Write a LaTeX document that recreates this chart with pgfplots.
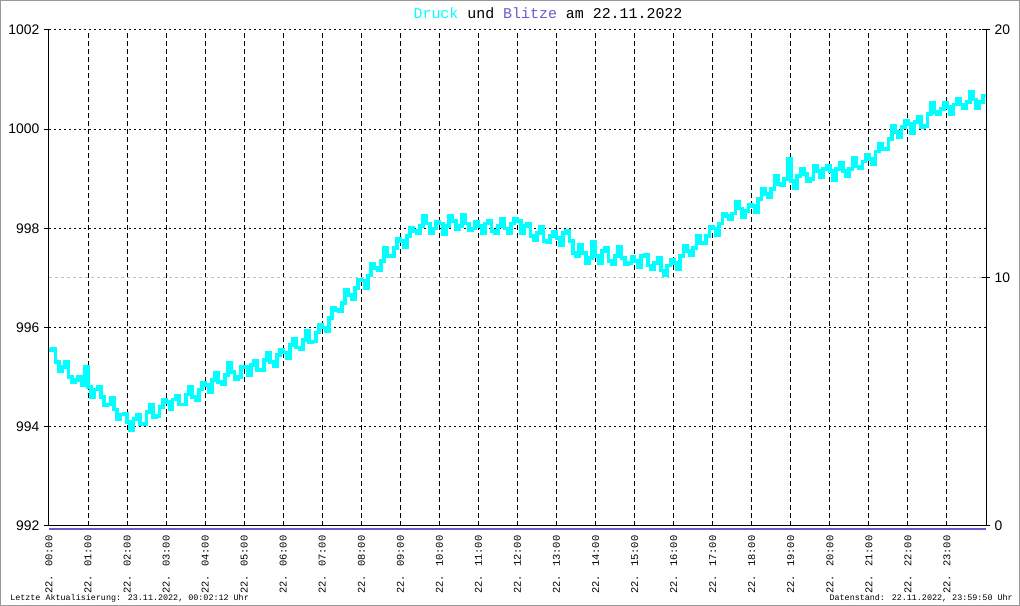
\documentclass[border=0pt]{standalone}
\usepackage{fontspec}
\setmainfont{Liberation Mono}
\newfontfamily\sansf{Liberation Sans}
\usepackage{pgfplots}
\usepackage{pgfplotstable}
\pgfplotsset{compat=1.18}
\definecolor{druck}{HTML}{00FFFF}
\definecolor{blitz}{HTML}{6A5ACD}

\pgfplotstableread{
t p
0 995.55
5 995.58
10 995.3
15 995.13
20 995.2
25 995.3
30 995.0
35 994.9
40 994.95
45 995.0
50 994.85
55 995.2
60 994.8
65 994.6
70 994.75
75 994.8
80 994.6
85 994.43
90 994.45
95 994.58
100 994.35
105 994.15
110 994.25
115 994.26
120 994.1
125 993.93
130 994.15
135 994.25
140 994.05
145 994.06
150 994.3
155 994.45
160 994.2
165 994.22
170 994.4
175 994.55
180 994.5
185 994.35
190 994.55
195 994.62
200 994.45
205 994.45
210 994.65
215 994.8
220 994.6
225 994.53
230 994.75
235 994.88
240 994.85
245 994.7
250 994.95
255 995.08
260 994.9
265 994.86
270 995.05
275 995.28
280 995.1
285 994.97
290 995.0
295 995.2
300 995.2
305 995.05
310 995.25
315 995.32
320 995.15
325 995.15
330 995.35
335 995.5
340 995.3
345 995.23
350 995.45
355 995.56
360 995.5
365 995.38
370 995.65
375 995.78
380 995.6
385 995.56
390 995.75
395 995.93
400 995.7
405 995.72
410 995.9
415 996.05
420 996.0
425 995.92
430 996.2
435 996.4
440 996.35
445 996.33
450 996.5
455 996.76
460 996.65
465 996.58
470 996.8
475 996.96
480 996.95
485 996.8
490 997.05
495 997.28
500 997.2
505 997.16
510 997.35
515 997.6
520 997.45
525 997.45
530 997.6
535 997.78
540 997.75
545 997.62
550 997.85
555 998.02
560 997.95
565 997.9
570 998.05
575 998.26
580 998.1
585 997.9
590 998.0
595 998.13
600 998.1
605 997.88
610 998.05
615 998.25
620 998.15
625 997.98
630 998.05
635 998.28
640 998.1
645 997.97
650 998.0
655 998.13
660 998.05
665 997.9
670 998.1
675 998.15
680 997.95
685 997.9
690 998.05
695 998.2
700 998.0
705 997.9
710 998.1
715 998.2
720 998.15
725 997.9
730 998.05
735 998.1
740 997.85
745 997.76
750 997.9
755 998.03
760 997.75
765 997.72
770 997.85
775 997.92
780 997.8
785 997.67
790 997.9
795 997.95
800 997.75
805 997.5
810 997.45
815 997.66
820 997.5
825 997.3
830 997.4
835 997.72
840 997.45
845 997.3
850 997.55
855 997.6
860 997.35
865 997.28
870 997.45
875 997.62
880 997.4
885 997.27
890 997.3
895 997.42
900 997.35
905 997.22
910 997.45
915 997.47
920 997.25
925 997.18
930 997.3
935 997.4
940 997.15
945 997.05
950 997.25
955 997.36
960 997.3
965 997.18
970 997.45
975 997.65
980 997.55
985 997.46
990 997.6
995 997.85
1000 997.7
1005 997.7
1010 997.85
1015 998.03
1020 998.0
1025 997.87
1030 998.1
1035 998.3
1040 998.25
1045 998.18
1050 998.3
1055 998.53
1060 998.4
1065 998.23
1070 998.35
1075 998.48
1080 998.45
1085 998.33
1090 998.6
1095 998.8
1100 998.7
1105 998.63
1110 998.8
1115 999.05
1120 998.9
1125 998.87
1130 999.0
1135 999.4
1140 998.95
1145 998.82
1150 999.05
1155 999.2
1160 999.1
1165 998.95
1170 999.0
1175 999.26
1180 999.15
1185 999.03
1190 999.2
1195 999.26
1200 999.15
1205 998.98
1210 999.2
1215 999.33
1220 999.15
1225 999.06
1230 999.2
1235 999.43
1240 999.25
1245 999.22
1250 999.35
1255 999.48
1260 999.4
1265 999.3
1270 999.55
1275 999.7
1280 999.6
1285 999.6
1290 999.8
1295 1000.06
1300 999.95
1305 999.85
1310 1000.05
1315 1000.16
1320 1000.1
1325 999.93
1330 1000.15
1335 1000.25
1340 1000.05
1345 1000.06
1350 1000.3
1355 1000.53
1360 1000.35
1365 1000.3
1370 1000.4
1375 1000.53
1380 1000.45
1385 1000.3
1390 1000.5
1395 1000.62
1400 1000.5
1405 1000.43
1410 1000.55
1415 1000.76
1420 1000.6
1425 1000.43
1430 1000.55
1435 1000.68
1440 1000.65
}\druckdata

\begin{document}
\begin{tikzpicture}
\useasboundingbox (0,0) rectangle (765pt,454.5pt);
\draw[gray!80, line width=0.75pt] (0.375pt,0.375pt) rectangle (764.625pt,454.125pt);
\node[font=\fontsize{11.2}{13}\selectfont] at (411pt,444.75pt) {\textcolor{druck}{Druck} und \textcolor{blitz}{Blitze} am 22.11.2022};
\node[anchor=west, font=\fontsize{6.3}{7}\selectfont, inner sep=0pt] at (7.5pt,6pt) {Letzte Aktualisierung: 23.11.2022, 00:02:12 Uhr};
\node[anchor=east, font=\fontsize{6.3}{7}\selectfont, inner sep=0pt] at (759.75pt,6pt) {Datenstand: 22.11.2022, 23:59:50 Uhr};
\begin{axis}[
  at={(36.75pt,60pt)}, anchor=south west,
  scale only axis, width=702.75pt, height=372pt,
  xmin=0, xmax=1440, ymin=992, ymax=1002,
  axis x line*=bottom, axis y line*=left,
  axis line style={line width=0.75pt, black, -},
  xtick={0,60,...,1380},
  xticklabels={22. 00:00,22. 01:00,22. 02:00,22. 03:00,22. 04:00,22. 05:00,22. 06:00,22. 07:00,22. 08:00,22. 09:00,22. 10:00,22. 11:00,22. 12:00,22. 13:00,22. 14:00,22. 15:00,22. 16:00,22. 17:00,22. 18:00,22. 19:00,22. 20:00,22. 21:00,22. 22:00,22. 23:00},
  xticklabel style={rotate=90, anchor=east, font=\fontsize{7.8}{8}\selectfont},
  x tick style={draw=none},
  xmajorgrids, x grid style={black, line width=0.75pt, dash pattern=on 3.75pt off 2.25pt},
  ytick={992,994,...,1002},
  ymajorgrids, y grid style={black, line width=0.75pt, dash pattern=on 1.5pt off 2.25pt},
  yticklabel style={font=\sansf\fontsize{10.4}{12}\selectfont},
  /pgf/number format/assume math mode=true,
  /pgf/number format/1000 sep={},
  y tick style={black, line width=0.75pt},
  ytick pos=left, tick align=outside, major tick length=3.75pt,
]
\draw[gray!50, line width=0.75pt, dash pattern=on 2.25pt off 2.25pt] (axis cs:0,997) -- (axis cs:1440,997);
\addplot[const plot, druck, line width=2.8pt] table[x=t, y=p] {\druckdata};
\end{axis}
\begin{axis}[
  at={(36.75pt,60pt)}, anchor=south west,
  scale only axis, width=702.75pt, height=372pt,
  xmin=0, xmax=1440, ymin=0, ymax=20,
  axis x line=none, axis y line*=right,
  axis line style={line width=0.75pt, black, -},
  ytick={0,10,20},
  yticklabel style={font=\sansf\fontsize{10.4}{12}\selectfont},
  /pgf/number format/assume math mode=true,
  y tick style={black, line width=0.75pt},
  tick align=center, major tick length=6pt,
  clip=false,
]
\addplot[blitz, line width=1.5pt] coordinates {(0,-0.12) (1440,-0.12)};
\end{axis}
\end{tikzpicture}
\end{document}
